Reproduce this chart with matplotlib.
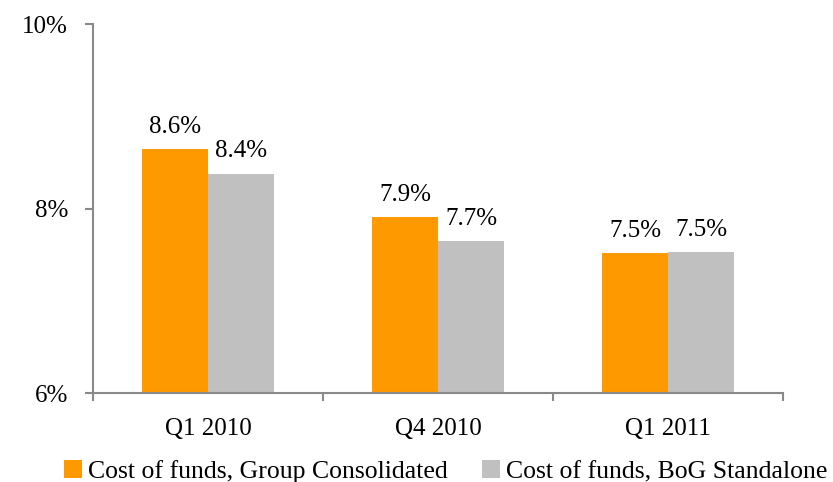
import matplotlib.pyplot as plt
import numpy as np

plt.rcParams['font.family'] = ['Liberation Serif', 'DejaVu Serif']

categories = ['Q1 2010', 'Q4 2010', 'Q1 2011']
group_consolidated = [8.65, 7.91, 7.52]
bog_standalone = [8.38, 7.65, 7.53]
group_labels = ['8.6%', '7.9%', '7.5%']
bog_labels = ['8.4%', '7.7%', '7.5%']

orange = '#FF9900'
grey = '#C0C0C0'
axis_col = '#898989'

fig = plt.figure(figsize=(8.33, 4.82), dpi=100)
ax = fig.add_axes([0.1116, 0.1846, 0.8284, 0.7654])

x = np.arange(len(categories))
w = 0.287
b1 = ax.bar(x - w / 2, [v - 6 for v in group_consolidated], w, bottom=6,
            color=orange, label='Cost of funds, Group Consolidated')
b2 = ax.bar(x + w / 2, [v - 6 for v in bog_standalone], w, bottom=6,
            color=grey, label='Cost of funds, BoG Standalone')

for bars, labels in ((b1, group_labels), (b2, bog_labels)):
    for rect, lab in zip(bars, labels):
        ax.annotate(lab, (rect.get_x() + rect.get_width() / 2, rect.get_y() + rect.get_height()),
                    xytext=(0, 8), textcoords='offset points',
                    ha='center', va='bottom', fontsize=18)

ax.set_xlim(-0.5, 2.5)
ax.set_ylim(6, 10)
ax.set_yticks([6, 8, 10])
ax.set_yticklabels(['6%', '8%', '10%'])
ax.set_xticks(x)
ax.set_xticklabels(categories)
ax.set_xticks([-0.5, 0.5, 1.5, 2.5], minor=True)

for s in ['top', 'right']:
    ax.spines[s].set_visible(False)
for s in ['left', 'bottom']:
    ax.spines[s].set_color(axis_col)
    ax.spines[s].set_linewidth(1.5)

ax.tick_params(axis='y', length=6, width=1.5, color=axis_col, labelsize=18, pad=12)
ax.tick_params(axis='x', which='major', length=0, labelsize=18, pad=18)
ax.tick_params(axis='x', which='minor', length=6, width=1.5, color=axis_col)

fig.legend(loc='lower center', bbox_to_anchor=(0.535, -0.05), ncol=2, frameon=False,
           fontsize=18.5, handlelength=0.7, handleheight=0.7, handletextpad=0.25,
           columnspacing=1.3)

fig.savefig('out.png', dpi=100)
